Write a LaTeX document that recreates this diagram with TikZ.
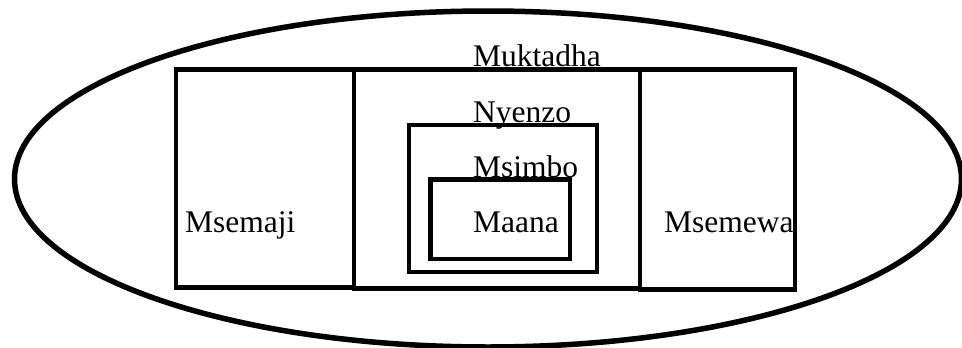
\documentclass[tikz,border=0pt]{standalone}
\usepackage{fontspec}
\setmainfont{Liberation Serif}
\begin{document}
\begin{tikzpicture}[x=1pt,y=-1pt,
  box/.style={draw, line width=4.5pt},
  oval/.style={draw, line width=5.5pt},
  lbl/.style={font=\fontsize{31.5}{36}\selectfont, inner sep=0pt, anchor=base west}]
\useasboundingbox (0,0) rectangle (962,348);
\draw[oval] (488,179) ellipse [x radius=473.5, y radius=168];
% rectangles
\draw[box] (176,69.5) rectangle (354,287.5);
\draw[box] (354,69.5) rectangle (640,288.5);
\draw[box] (640,69.5) rectangle (795,289.5);
\draw[box] (409,125) rectangle (597,272);
\draw[box] (430.5,179.5) rectangle (570,259);
% labels
\node[lbl] (muktadha) at (473,66) {Muktadha};
\node[lbl] (nyenzo) at (473,122) {Nyenzo};
\node[lbl] (msimbo) at (473,177) {Msimbo};
\node[lbl] (maana) at (473,232) {Maana};
\node[lbl] (msemaji) at (185,232) {Msemaji};
\node[lbl] (msemewa) at (664,232) {Msemewa};
\end{tikzpicture}
\end{document}
